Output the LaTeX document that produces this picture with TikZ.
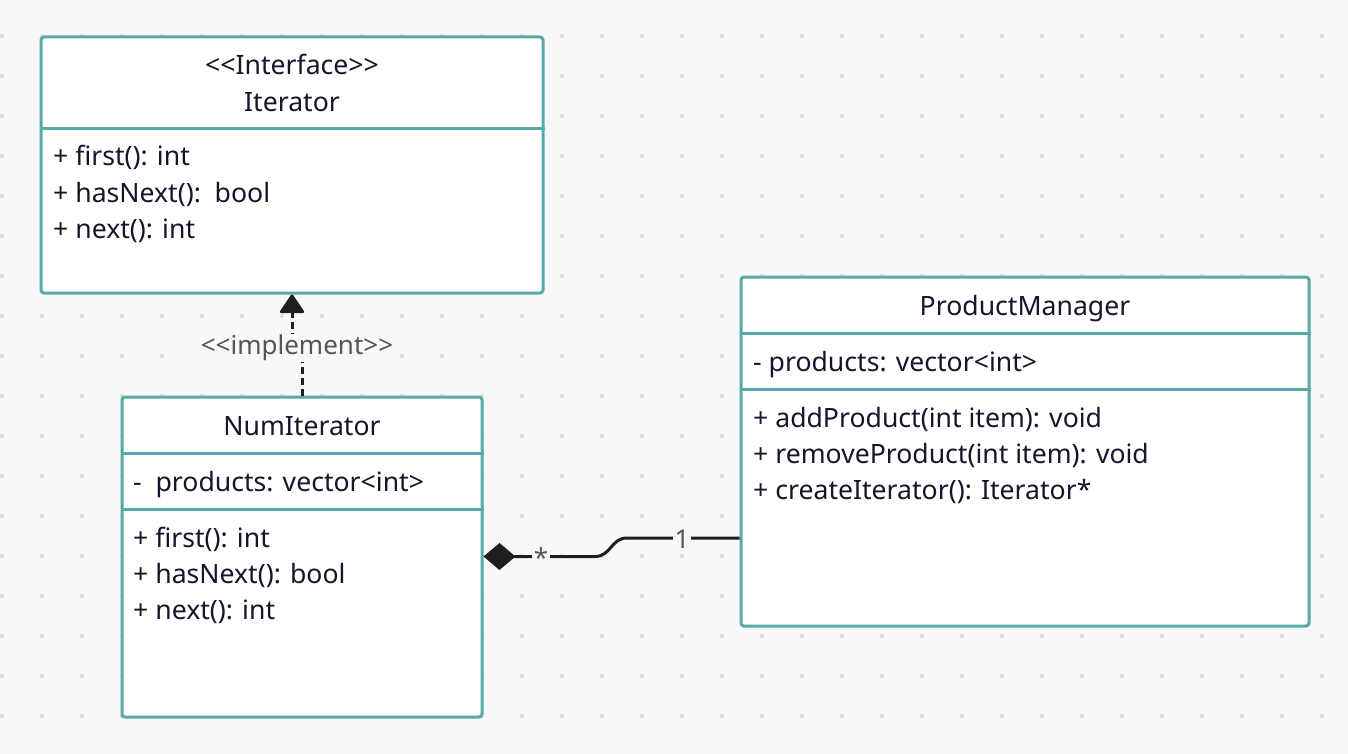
\documentclass[tikz,border=0pt]{standalone}
\usepackage{fontspec}
\setmainfont{Noto Sans}
\usetikzlibrary{arrows.meta}
\definecolor{bgc}{HTML}{F8F8FA}
\definecolor{dotc}{HTML}{DFDFE3}
\definecolor{teal}{HTML}{57AAA8}
\definecolor{ink}{HTML}{15152B}
\definecolor{lbl}{HTML}{555555}
\definecolor{wire}{HTML}{1E1E1E}
\newcommand{\dlt}{<\kern0pt<}
\newcommand{\dgt}{>\kern0pt>}
\tikzset{
  classbox/.style={draw=teal, line width=3pt, fill=white, rounded corners=3pt, inner sep=0pt},
  divider/.style={draw=teal, line width=3pt},
  member/.style={anchor=base west, inner sep=0pt, text=ink, font=\fontsize{26.6}{32}\selectfont},
  title/.style={anchor=base, inner sep=0pt, text=ink, font=\fontsize{26.6}{32}\selectfont},
  wirelabel/.style={fill=bgc, text=lbl, inner sep=2pt, font=\fontsize{26}{30}\selectfont},
  connector/.style={draw=wire, line width=3pt},
}
\begin{document}
\begin{tikzpicture}[x=1pt, y=-1pt]
\useasboundingbox (0,0) rectangle (1348,754);
\clip (0,0) rectangle (1348,754);
\fill[bgc] (0,0) rectangle (1348,754);
\foreach \i in {0,...,33} {
  \foreach \j in {0,...,18} {
    \fill[dotc] ({2+40*\i},{36+40*\j}) circle (2.2);
  }
}
% Iterator
\node[classbox, minimum width=502pt, minimum height=256pt] (it) at (292,165) {};
\draw[divider] (it.west |- 0,129) -- (it.east |- 0,129);
\node[title] (itst) at (292,75) {\dlt Interface\dgt};
\node[title] (itname) at (292,112) {Iterator};
\node[member] (itm1) at (53,166) {+ first(): int};
\node[member] (itm2) at (53,202) {+ hasNext():\ \ bool};
\node[member] (itm3) at (53,238) {+ next(): int};
% NumIterator
\node[classbox, minimum width=360pt, minimum height=320pt] (ni) at (302,557) {};
\draw[divider] (ni.west |- 0,453) -- (ni.east |- 0,453);
\draw[divider] (ni.west |- 0,509) -- (ni.east |- 0,509);
\node[title] (niname) at (302,435) {NumIterator};
\node[member] (nia1) at (133,491) {-\ \ products: vector<int>};
\node[member] (nim1) at (133,547) {+ first(): int};
\node[member] (nim2) at (133,583) {+ hasNext(): bool};
\node[member] (nim3) at (133,619) {+ next(): int};
% ProductManager
\node[classbox, minimum width=568pt, minimum height=349pt] (pm) at (1025,451.5) {};
\draw[divider] (pm.west |- 0,333) -- (pm.east |- 0,333);
\draw[divider] (pm.west |- 0,389) -- (pm.east |- 0,389);
\node[title] (pmname) at (1025,315) {ProductManager};
\node[member] (pma1) at (753,371) {- products: vector<int>};
\node[member] (pmm1) at (753,427) {+ addProduct(int item): void};
\node[member] (pmm2) at (753,463) {+ removeProduct(int item): void};
\node[member] (pmm3) at (753,499) {+ createIterator(): Iterator*};
% realization
\coordinate (r1) at (ni.north -| 302,0);
\coordinate (r2) at (it.south -| 292,0);
\draw[connector, dash pattern=on 7pt off 4pt, -{Triangle[length=20pt, width=26pt, round]}]
  (r1) -- (302,347) -- (292,347) -- (r2);
\node[wirelabel, inner sep=1pt] (impl) at (297,348) {\dlt implement\dgt};
% composition
\coordinate (c1) at (ni.east |- 0,556.5);
\coordinate (c2) at (pm.west |- 0,538);
\draw[connector, {Diamond[length=32pt, width=27pt]}-]
  (c1) -- (595,556.5) .. controls (611,556.5) and (611,538) .. (627,538) -- (c2);
\node[wirelabel] (mstar) at (541,558) {*};
\node[wirelabel] (mone) at (682,539) {1};
\end{tikzpicture}
\end{document}
